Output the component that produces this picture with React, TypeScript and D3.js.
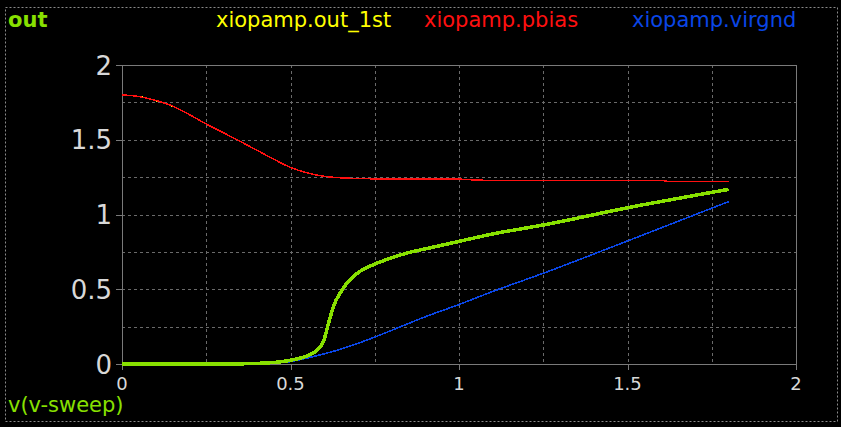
import React from "react";
import * as d3 from "d3";

// sweep values (x) and traces
const pbiasX = [0, 0.05, 0.1, 0.15, 0.2, 0.25, 0.3, 0.35, 0.4, 0.45, 0.5, 0.55, 0.6, 0.65, 0.7, 0.8, 1.0, 1.07, 1.3, 1.6, 1.62, 1.8];
const pbiasY = [1.8, 1.789, 1.763, 1.725, 1.668, 1.605, 1.548, 1.49, 1.43, 1.37, 1.315, 1.278, 1.256, 1.245, 1.241, 1.237, 1.236, 1.229, 1.229, 1.229, 1.222, 1.222];

// out_1st sits right underneath pbias (only a pixel peeks out)
const out1stX = [0, 0.05, 0.1, 0.15, 0.2, 0.25, 0.3, 0.35, 0.4, 0.45, 0.5, 0.55, 0.6, 0.65, 0.7, 0.8, 1.0, 1.07, 1.3, 1.6, 1.62, 1.8];
const out1stY = [1.8, 1.789, 1.762, 1.725, 1.668, 1.605, 1.548, 1.49, 1.43, 1.37, 1.315, 1.278, 1.256, 1.245, 1.241, 1.237, 1.236, 1.229, 1.229, 1.229, 1.222, 1.222];

const outX = [0, 0.1, 0.2, 0.3, 0.35, 0.4, 0.45, 0.5, 0.55, 0.575, 0.59, 0.6, 0.61, 0.62, 0.63, 0.647, 0.667, 0.7, 0.75, 0.8, 0.85, 0.9, 1.0, 1.1, 1.2, 1.25, 1.5, 1.8];
const outY = [0, 0, 0, 0, 0.001, 0.004, 0.01, 0.025, 0.055, 0.085, 0.12, 0.165, 0.25, 0.33, 0.4, 0.473, 0.54, 0.61, 0.668, 0.71, 0.745, 0.77, 0.82, 0.87, 0.91, 0.93, 1.045, 1.168];

const virgndX = [0, 0.2, 0.4, 0.45, 0.5, 0.55, 0.6, 0.65, 0.7, 0.75, 0.8, 0.9, 1.0, 1.1, 1.25, 1.5, 1.8];
const virgndY = [0, 0, 0.001, 0.005, 0.016, 0.04, 0.068, 0.1, 0.138, 0.18, 0.225, 0.316, 0.398, 0.485, 0.607, 0.823, 1.086];

const xTicks = [0, 0.5, 1, 1.5, 2];
const yTicks = [0, 0.5, 1, 1.5, 2];
const gridVals = [0.25, 0.5, 0.75, 1, 1.25, 1.5, 1.75];

const legendNames = ["xiopamp.out_1st", "xiopamp.pbias", "xiopamp.virgnd"];
const legendColors = ["#ffff00", "#ff1010", "#0a46e6"];

const GREEN = "#88e000";
const FONT = "DejaVu Sans, sans-serif";

export default function App() {
  const W = 841, H = 427;
  const x = d3.scaleLinear().domain([0, 2]).range([122, 796]);
  const y = d3.scaleLinear().domain([0, 2]).range([364, 65]);
  const line = d3.line<[number, number]>()
    .x(d => x(d[0]))
    .y(d => y(d[1]))
    .curve(d3.curveMonotoneX);
  const zip = (a: number[], b: number[]) => a.map((v, i) => [v, b[i]] as [number, number]);

  const gridColor = "#6a6a6a";
  const axisColor = "#7a7a7a";

  return (
    <svg width={W} height={H} style={{ position: "absolute", left: 0, top: 0, display: "block" }}>
      <rect x={0} y={0} width={W} height={H} fill="#000" />
      {/* outer dashed border */}
      <rect x={5.5} y={7.5} width={832} height={414} fill="none" stroke="#8a8a8a" strokeWidth={1} strokeDasharray="2,2" />

      {/* grid */}
      {gridVals.map(v => (
        <line key={"gx" + v} x1={Math.round(x(v)) + 0.5} x2={Math.round(x(v)) + 0.5} y1={y(2)} y2={y(0)}
          stroke={gridColor} strokeDasharray="3,3" strokeWidth={1} />
      ))}
      {gridVals.map(v => (
        <line key={"gy" + v} y1={Math.round(y(v)) + 0.5} y2={Math.round(y(v)) + 0.5} x1={x(0)} x2={x(2)}
          stroke={gridColor} strokeDasharray="3,3" strokeWidth={1} />
      ))}

      {/* frame */}
      <line x1={116} x2={x(2)} y1={65.5} y2={65.5} stroke={axisColor} />
      <line x1={116} x2={x(2)} y1={364.5} y2={364.5} stroke={axisColor} />
      <line x1={122.5} x2={122.5} y1={65} y2={370} stroke={axisColor} />
      <line x1={796.5} x2={796.5} y1={65} y2={370} stroke={axisColor} />
      {xTicks.map(v => (
        <line key={"xt" + v} x1={Math.round(x(v)) + 0.5} x2={Math.round(x(v)) + 0.5} y1={364} y2={370} stroke={axisColor} />
      ))}
      {yTicks.map(v => (
        <line key={"yt" + v} x1={116} x2={122} y1={Math.round(y(v)) + 0.5} y2={Math.round(y(v)) + 0.5} stroke={axisColor} />
      ))}

      {/* tick labels */}
      {yTicks.map(v => (
        <text key={"yl" + v} x={112} y={y(v) + 9.5} textAnchor="end" fill="#d8d8d8"
          fontFamily={FONT} fontSize={26}>{String(v)}</text>
      ))}
      {xTicks.map(v => (
        <text key={"xl" + v} x={x(v)} y={390} textAnchor="middle" fill="#d8d8d8"
          fontFamily={FONT} fontSize={18}>{String(v)}</text>
      ))}

      {/* traces */}
      <path d={line(zip(out1stX, out1stY)) || ""} fill="none" stroke={legendColors[0]} strokeWidth={1.5} shapeRendering="crispEdges" />
      <path d={line(zip(pbiasX, pbiasY)) || ""} fill="none" stroke={legendColors[1]} strokeWidth={1.5} shapeRendering="crispEdges" />
      <path d={line(zip(virgndX, virgndY)) || ""} fill="none" stroke={legendColors[2]} strokeWidth={1.6} shapeRendering="crispEdges" />
      <path d={line(zip(outX, outY)) || ""} fill="none" stroke={GREEN} strokeWidth={3.5} shapeRendering="crispEdges" />

      {/* titles / legend */}
      <text x={8} y={27} fill={GREEN} fontFamily={FONT} fontSize={21} fontWeight="bold">out</text>
      <text x={216} y={27} fill={legendColors[0]} fontFamily={FONT} fontSize={21}>{legendNames[0]}</text>
      <text x={424} y={27} fill={legendColors[1]} fontFamily={FONT} fontSize={21}>{legendNames[1]}</text>
      <text x={632} y={27} fill={legendColors[2]} fontFamily={FONT} fontSize={21}>{legendNames[2]}</text>
      <text x={8} y={412} fill={GREEN} fontFamily={FONT} fontSize={21}>v(v-sweep)</text>
    </svg>
  );
}
